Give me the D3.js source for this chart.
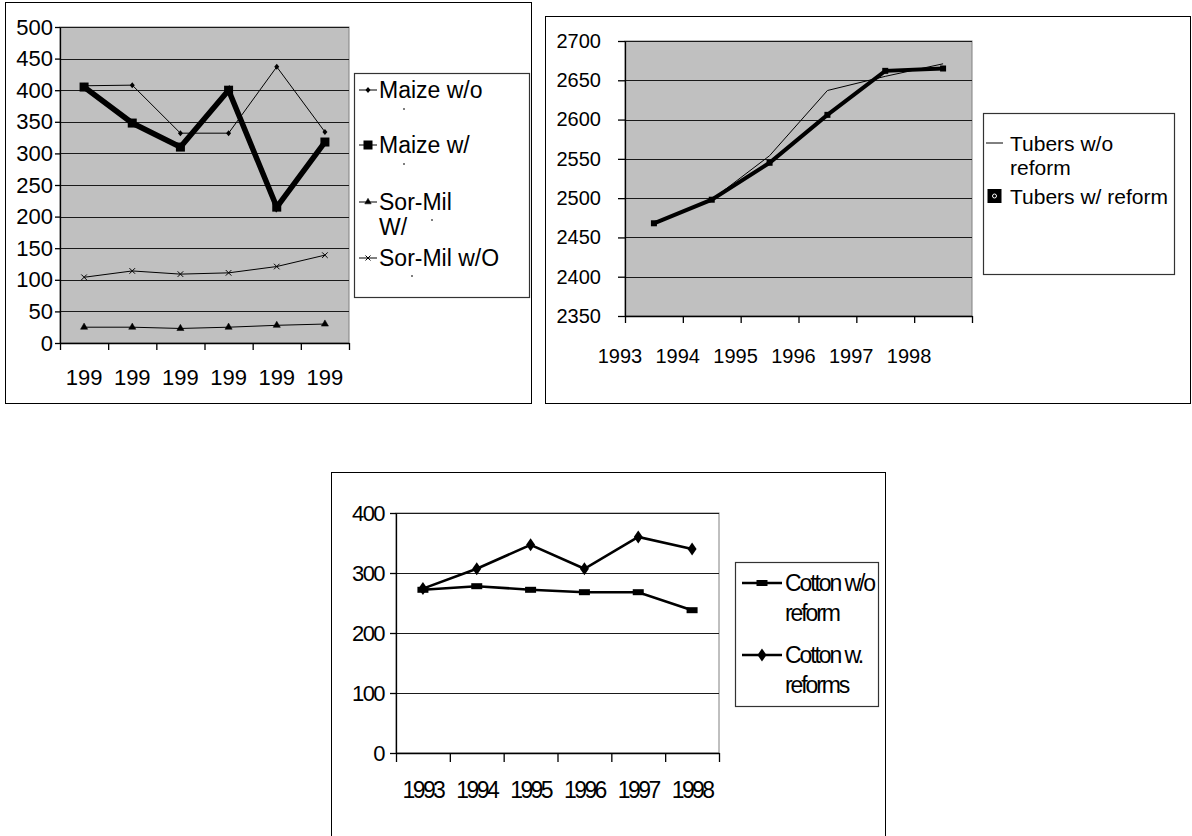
<!DOCTYPE html>
<html>
<head>
<meta charset="utf-8">
<script src="https://cdn.jsdelivr.net/npm/d3@7"></script>
<style>
body { margin: 0; background: #fff; }
text { font-family: Arial, "Liberation Sans", sans-serif; fill: #000; }
</style>
</head>
<body>
<svg width="1192" height="836"></svg>
<script>
// values
var years = ["1993", "1994", "1995", "1996", "1997", "1998"];
var shortYears = ["199", "199", "199", "199", "199", "199"];

var maizeWithout = [407, 408, 332, 332, 437, 334];
var maizeWith = [405, 348, 310, 400, 215, 318];
var sorMilWith = [25, 25, 23, 25, 28, 30];
var sorMilWithout = [104, 114, 109, 111, 121, 139];
var maizeTicks = [0, 50, 100, 150, 200, 250, 300, 350, 400, 450, 500];

var tubersWithout = [2469, 2498, 2554, 2637, 2655, 2671];
var tubersWith = [2468, 2498, 2545, 2606, 2662, 2665];
var tuberTicks = [2350, 2400, 2450, 2500, 2550, 2600, 2650, 2700];

var cottonWithout = [272, 278, 272, 268, 268, 238];
var cottonWith = [274, 307, 347, 307, 360, 340];
var cottonTicks = [0, 100, 200, 300, 400];

var svg = d3.select("svg");

function frame(x, y, w, h) {
  svg.append("rect").attr("x", x + 0.5).attr("y", y + 0.5)
    .attr("width", w).attr("height", h)
    .attr("fill", "none").attr("stroke", "#000").attr("stroke-width", 1);
}

// one excel-like line chart panel
function panel(c) {
  var g = svg.append("g");
  var x = d3.scaleLinear().domain([0, c.cats.length]).range([c.l, c.r]);
  var y = d3.scaleLinear().domain([c.ticks[0], c.ticks[c.ticks.length - 1]]).range([c.b, c.t]);

  g.append("rect").attr("x", c.l).attr("y", c.t)
    .attr("width", c.r - c.l).attr("height", c.b - c.t)
    .attr("fill", c.bg).attr("stroke", "#808080").attr("stroke-width", 1);

  g.selectAll(".grid").data(c.ticks.slice(1)).enter().append("line")
    .attr("x1", c.l).attr("x2", c.r)
    .attr("y1", function(d) { return Math.round(y(d)) + 0.5; })
    .attr("y2", function(d) { return Math.round(y(d)) + 0.5; })
    .attr("stroke", "#1a1a1a").attr("stroke-width", 1.2);

  var ya = g.append("g").attr("transform", "translate(" + c.l + ",0)")
    .call(d3.axisLeft(y).tickValues(c.ticks).tickFormat(d3.format("d"))
      .tickSize(c.ytick).tickPadding(c.ypad).tickSizeOuter(0));
  g.append("g").attr("transform", "translate(0," + c.b + ")")
    .call(d3.axisBottom(x).tickValues(d3.range(c.cats.length + 1)).tickSize(c.xtick).tickFormat("").tickSizeOuter(0));
  g.selectAll(".domain").attr("stroke", "#000").attr("stroke-width", 1.3);
  g.selectAll(".tick line").attr("stroke", "#000").attr("stroke-width", 1.3);
  ya.selectAll("text").attr("font-size", c.yfont).attr("font-family", "Arial, Liberation Sans")
    .style("letter-spacing", c.yls + "px").attr("fill", "#000");

  g.selectAll(".xlab").data(c.cats).enter().append("text")
    .attr("x", function(d, i) { return x(i + 0.5) + c.xlabShift; })
    .attr("y", c.xlabY)
    .attr("text-anchor", "middle")
    .attr("font-size", c.xfont)
    .style("letter-spacing", c.xls + "px")
    .text(function(d) { return d; });

  c.series.forEach(function(s) {
    var line = d3.line().x(function(d, i) { return x(i + 0.5); }).y(function(d) { return y(d); });
    g.append("path").datum(s.values).attr("d", line)
      .attr("fill", "none").attr("stroke", "#000").attr("stroke-width", s.width)
      .attr("stroke-linejoin", "miter");
    if (s.marker) {
      g.selectAll(null).data(s.values).enter().append("g")
        .attr("transform", function(d, i) { return "translate(" + x(i + 0.5) + "," + y(d) + ")"; })
        .each(function() { s.marker(d3.select(this)); });
    }
  });
  return { x: x, y: y };
}

function legend(box, items, font, ls) {
  svg.append("rect").attr("x", box.x + 0.5).attr("y", box.y + 0.5)
    .attr("width", box.w).attr("height", box.h)
    .attr("fill", "#fff").attr("stroke", "#333").attr("stroke-width", 1.2);
  items.forEach(function(it) {
    if (it.lineWidth) {
      svg.append("line").attr("x1", it.x1).attr("x2", it.x2).attr("y1", it.y).attr("y2", it.y)
        .attr("stroke", "#000").attr("stroke-width", it.lineWidth);
    }
    if (it.marker) {
      var m = svg.append("g").attr("transform", "translate(" + (it.x1 + it.x2) / 2 + "," + it.y + ")");
      it.marker(m);
    }
    it.lines.forEach(function(t, k) {
      svg.append("text").attr("x", it.tx).attr("y", it.y + k * it.lh).attr("dy", "0.36em")
        .attr("font-size", font).style("letter-spacing", ls + "px").text(t);
    });
  });
}

function sym(type, size, filled) {
  return function(sel) {
    sel.append("path").attr("d", d3.symbol(type, size)())
      .attr("fill", filled ? "#000" : "none")
      .attr("stroke", "#000").attr("stroke-width", filled ? 0.5 : 1);
  };
}
function rectMark(w, h) {
  return function(sel) {
    sel.append("rect").attr("x", -w / 2).attr("y", -h / 2).attr("width", w).attr("height", h).attr("fill", "#000");
  };
}
function tallDiamond(w, h) {
  return function(sel) {
    sel.append("path").attr("d", "M0," + (-h / 2) + "L" + (w / 2) + ",0L0," + (h / 2) + "L" + (-w / 2) + ",0Z")
      .attr("fill", "#000");
  };
}
var timesType = d3.symbolTimes || d3.symbolX || d3.symbolCross;

// ---- maize / sorghum-millet ----
frame(5, 2, 526, 401);
panel({
  cats: shortYears, ticks: maizeTicks, bg: "#c0c0c0",
  l: 60, r: 349, t: 27, b: 343,
  ytick: 5, ypad: 2, yfont: 22, yls: 0,
  xtick: 7, xfont: 22, xls: 0, xlabY: 385, xlabShift: 0,
  series: [
    { values: maizeWithout, width: 1, marker: tallDiamond(5, 6) },
    { values: maizeWith, width: 5.5, marker: rectMark(9, 9) },
    { values: sorMilWith, width: 1, marker: sym(d3.symbolTriangle, 22, true) },
    { values: sorMilWithout, width: 1, marker: sym(timesType, 22, false) }
  ]
});
legend({ x: 354, y: 73, w: 175, h: 224 }, [
  { x1: 359, x2: 377, y: 90, lineWidth: 1, marker: tallDiamond(5, 6), tx: 379, lh: 0, lines: ["Maize w/o"] },
  { x1: 359, x2: 377, y: 145, lineWidth: 1, marker: rectMark(9, 9), tx: 379, lh: 0, lines: ["Maize w/"] },
  { x1: 359, x2: 377, y: 202, lineWidth: 1, marker: sym(d3.symbolTriangle, 18, true), tx: 379, lh: 25, lines: ["Sor-Mil", "W/"] },
  { x1: 359, x2: 377, y: 258, lineWidth: 1, marker: sym(timesType, 18, false), tx: 379, lh: 0, lines: ["Sor-Mil w/O"] }
], 23, 0);
// clipped second lines of the legend entries
[[404, 109], [404, 164], [432, 220], [412, 276]].forEach(function(p) {
  svg.append("line").attr("x1", p[0] - 1).attr("x2", p[0] + 1).attr("y1", p[1]).attr("y2", p[1])
    .attr("stroke", "#000").attr("stroke-width", 1.2);
});

// ---- tubers ----
frame(545, 16, 645, 387);
panel({
  cats: years, ticks: tuberTicks, bg: "#c0c0c0",
  l: 625, r: 972, t: 41, b: 316,
  ytick: 7, ypad: 17, yfont: 20, yls: 0,
  xtick: 7, xfont: 20, xls: 0, xlabY: 363, xlabShift: -34,
  series: [
    { values: tubersWithout, width: 1, marker: null },
    { values: tubersWith, width: 4, marker: rectMark(6, 6) }
  ]
});
legend({ x: 983, y: 113, w: 191, h: 161 }, [
  { x1: 986, x2: 1003, y: 143, lineWidth: 1, marker: null, tx: 1010, lh: 24, lines: ["Tubers w/o", "reform"] },
  { x1: 987, x2: 1002, y: 196, lineWidth: 0, marker: function(sel) {
      sel.append("rect").attr("x", -7).attr("y", -7).attr("width", 14).attr("height", 14).attr("fill", "#000");
      sel.append("circle").attr("r", 2).attr("fill", "none").attr("stroke", "#fff").attr("stroke-width", 1);
    }, tx: 1010, lh: 0, lines: ["Tubers w/ reform"] }
], 21, 0);

// ---- cotton ----
frame(331, 472, 554, 420);
panel({
  cats: years, ticks: cottonTicks, bg: "#fff",
  l: 396, r: 719, t: 513, b: 753,
  ytick: 6, ypad: 6, yfont: 22, yls: -1.6,
  xtick: 9, xfont: 23, xls: -2.6, xlabY: 798, xlabShift: 0,
  series: [
    { values: cottonWithout, width: 2.6, marker: rectMark(11, 6) },
    { values: cottonWith, width: 2.6, marker: tallDiamond(9, 13) }
  ]
});
legend({ x: 735, y: 562, w: 143, h: 144 }, [
  { x1: 742, x2: 782, y: 583, lineWidth: 2.6, marker: rectMark(11, 6), tx: 785, lh: 30, lines: ["Cotton w/o", "reform"] },
  { x1: 742, x2: 782, y: 655, lineWidth: 2.6, marker: tallDiamond(9, 13), tx: 785, lh: 30, lines: ["Cotton w.", "reforms"] }
], 23, -2.1);
</script>
</body>
</html>
